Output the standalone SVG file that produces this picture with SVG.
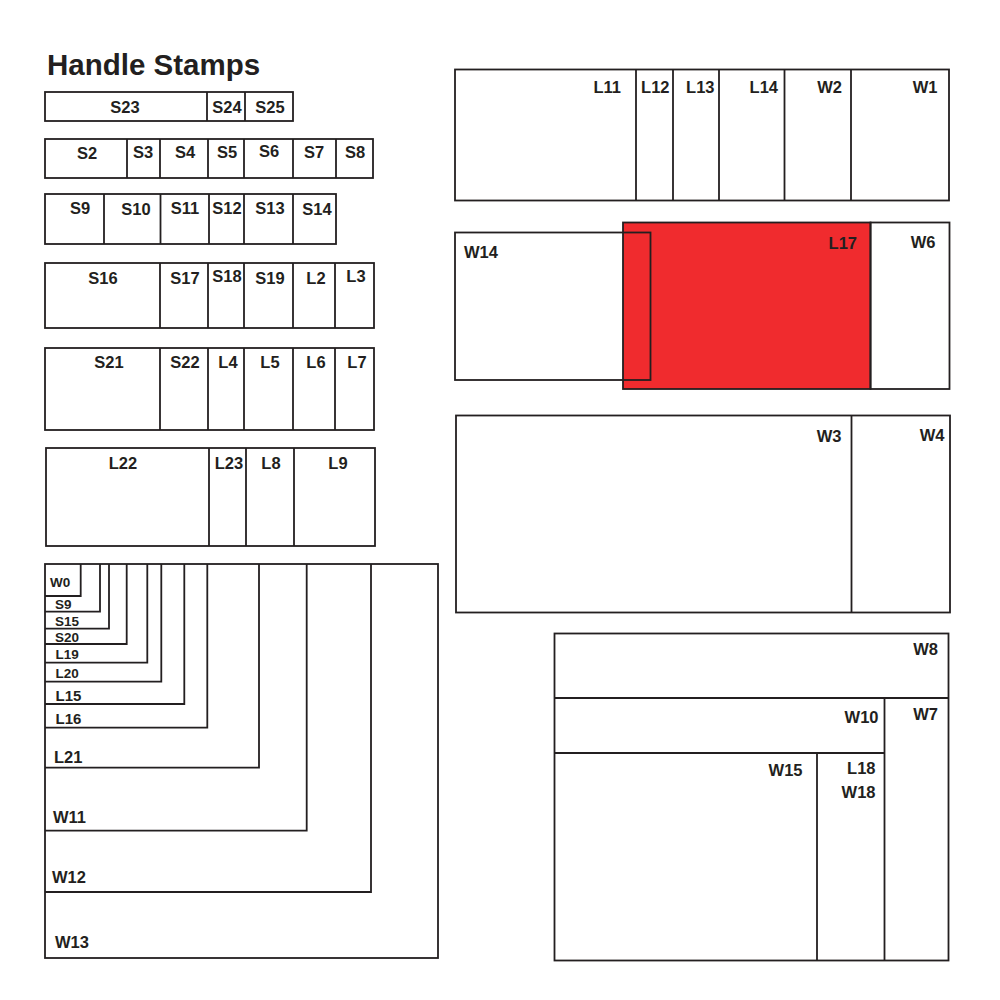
<svg xmlns="http://www.w3.org/2000/svg" width="1000" height="1000" viewBox="0 0 1000 1000">
<style>
rect,line,path{fill:none;stroke:#231f20;stroke-width:1.8}
text{font-family:"Liberation Sans",Arial,Helvetica,sans-serif;font-weight:bold;fill:#231f20;font-size:16.5px}
.m{text-anchor:middle}
.e{text-anchor:end}
.s{font-size:13.5px}
.t{font-size:15px}
.red{fill:#f02b2e}
</style>
<rect x="0" y="0" width="1000" height="1000" style="fill:#fff;stroke:none"/>
<text x="47" y="75" style="font-size:29.5px">Handle Stamps</text>

<g id="row1">
<rect x="45" y="92" width="248" height="29"/>
<line x1="207" y1="92" x2="207" y2="121"/><line x1="245" y1="92" x2="245" y2="121"/>
<text class="m" x="125" y="112.5">S23</text><text class="m" x="227" y="112.5">S24</text><text class="m" x="270" y="112.5">S25</text>
</g>

<g id="row2">
<rect x="45" y="139" width="328" height="39"/>
<line x1="127" y1="139" x2="127" y2="178"/><line x1="160" y1="139" x2="160" y2="178"/><line x1="208" y1="139" x2="208" y2="178"/><line x1="244" y1="139" x2="244" y2="178"/><line x1="293" y1="139" x2="293" y2="178"/><line x1="336" y1="139" x2="336" y2="178"/>
<text class="m" x="87" y="159">S2</text><text class="m" x="143" y="158">S3</text><text class="m" x="185" y="158">S4</text><text class="m" x="227" y="158">S5</text><text class="m" x="269" y="156.5">S6</text><text class="m" x="314" y="158">S7</text><text class="m" x="355" y="158">S8</text>
</g>

<g id="row3">
<rect x="45" y="194" width="291" height="50"/>
<line x1="104" y1="194" x2="104" y2="244"/><line x1="160.5" y1="194" x2="160.5" y2="244"/><line x1="209" y1="194" x2="209" y2="244"/><line x1="244" y1="194" x2="244" y2="244"/><line x1="293" y1="194" x2="293" y2="244"/>
<text class="m" x="80" y="214">S9</text><text class="m" x="136" y="215">S10</text><text class="m" x="185" y="214">S11</text><text class="m" x="227" y="214">S12</text><text class="m" x="270" y="214">S13</text><text class="m" x="317" y="215">S14</text>
</g>

<g id="row4">
<rect x="45" y="263" width="329" height="65"/>
<line x1="160" y1="263" x2="160" y2="328"/><line x1="208" y1="263" x2="208" y2="328"/><line x1="244" y1="263" x2="244" y2="328"/><line x1="293" y1="263" x2="293" y2="328"/><line x1="335" y1="263" x2="335" y2="328"/>
<text class="m" x="103" y="283.5">S16</text><text class="m" x="185" y="284">S17</text><text class="m" x="227" y="282">S18</text><text class="m" x="270" y="284">S19</text><text class="m" x="316" y="284">L2</text><text class="m" x="356" y="282">L3</text>
</g>

<g id="row5">
<rect x="45" y="348" width="329" height="82"/>
<line x1="160" y1="348" x2="160" y2="430"/><line x1="208" y1="348" x2="208" y2="430"/><line x1="244" y1="348" x2="244" y2="430"/><line x1="293" y1="348" x2="293" y2="430"/><line x1="335" y1="348" x2="335" y2="430"/>
<text class="m" x="109" y="368">S21</text><text class="m" x="185" y="368">S22</text><text class="m" x="228" y="368">L4</text><text class="m" x="270" y="368">L5</text><text class="m" x="316" y="368">L6</text><text class="m" x="357" y="368">L7</text>
</g>

<g id="row6">
<rect x="46" y="448" width="329" height="98"/>
<line x1="209" y1="448" x2="209" y2="546"/><line x1="246" y1="448" x2="246" y2="546"/><line x1="294" y1="448" x2="294" y2="546"/>
<text class="m" x="123" y="469">L22</text><text class="m" x="229" y="469">L23</text><text class="m" x="271" y="469">L8</text><text class="m" x="338" y="469">L9</text>
</g>

<g id="nested">
<rect x="45" y="564" width="393" height="394"/>
<path d="M45 596H80.7V564"/>
<path d="M45 611.7H100V564"/>
<path d="M45 628.7H109V564"/>
<path d="M45 644H126.7V564"/>
<path d="M45 662.7H147.3V564"/>
<path d="M45 681.7H161.3V564"/>
<path d="M45 704H184.3V564"/>
<path d="M45 727.7H207.3V564"/>
<path d="M45 767.7H259V564"/>
<path d="M45 830.7H306.7V564"/>
<path d="M45 892H371V564"/>
<text class="s" x="50" y="586.5">W0</text>
<text class="s" x="55" y="609">S9</text>
<text class="s" x="55" y="626">S15</text>
<text class="s" x="55" y="642">S20</text>
<text class="s" x="55.5" y="658.5">L19</text>
<text class="s" x="55.5" y="677.5">L20</text>
<text class="t" x="55.5" y="700.5">L15</text>
<text class="t" x="55.5" y="723.5">L16</text>
<text x="54" y="762.5">L21</text>
<text x="53" y="823">W11</text>
<text x="52" y="883">W12</text>
<text x="55" y="947.5">W13</text>
</g>

<g id="top-right">
<rect x="455" y="69.5" width="494" height="131"/>
<line x1="636" y1="69.5" x2="636" y2="200.5"/><line x1="673" y1="69.5" x2="673" y2="200.5"/><line x1="719" y1="69.5" x2="719" y2="200.5"/><line x1="784.5" y1="69.5" x2="784.5" y2="200.5"/><line x1="851" y1="69.5" x2="851" y2="200.5"/>
<text class="e" x="621" y="92.5">L11</text><text class="e" x="669.5" y="92.5">L12</text><text class="e" x="714.5" y="92.5">L13</text><text class="e" x="778" y="92.5">L14</text><text class="e" x="842" y="92.5">W2</text><text class="e" x="937.5" y="92.5">W1</text>
</g>

<g id="l17-group">
<rect class="red" x="623" y="222.5" width="247.5" height="166.5"/>
<rect x="870.5" y="222.5" width="79" height="166.5"/>
<rect x="455" y="232.5" width="195.5" height="147.5"/>
<text x="464" y="257.5">W14</text>
<text class="e" x="857" y="249">L17</text>
<text class="e" x="935.5" y="247.5">W6</text>
</g>

<g id="w3-w4">
<rect x="456" y="415.5" width="494" height="197"/>
<line x1="851.5" y1="415.5" x2="851.5" y2="612.5"/>
<text class="e" x="841.5" y="441.5">W3</text>
<text class="e" x="944.5" y="441">W4</text>
</g>

<g id="bottom-right">
<rect x="554.5" y="633.5" width="394" height="327"/>
<line x1="554.5" y1="698" x2="948.5" y2="698"/>
<line x1="884.5" y1="698" x2="884.5" y2="960.5"/>
<line x1="554.5" y1="753" x2="884.5" y2="753"/>
<line x1="817" y1="753" x2="817" y2="960.5"/>
<text class="e" x="938" y="655">W8</text>
<text class="e" x="878.5" y="722.5">W10</text>
<text class="e" x="938" y="720">W7</text>
<text class="e" x="802.5" y="776">W15</text>
<text class="e" x="875.5" y="774">L18</text>
<text class="e" x="875.5" y="797.5">W18</text>
</g>
</svg>
